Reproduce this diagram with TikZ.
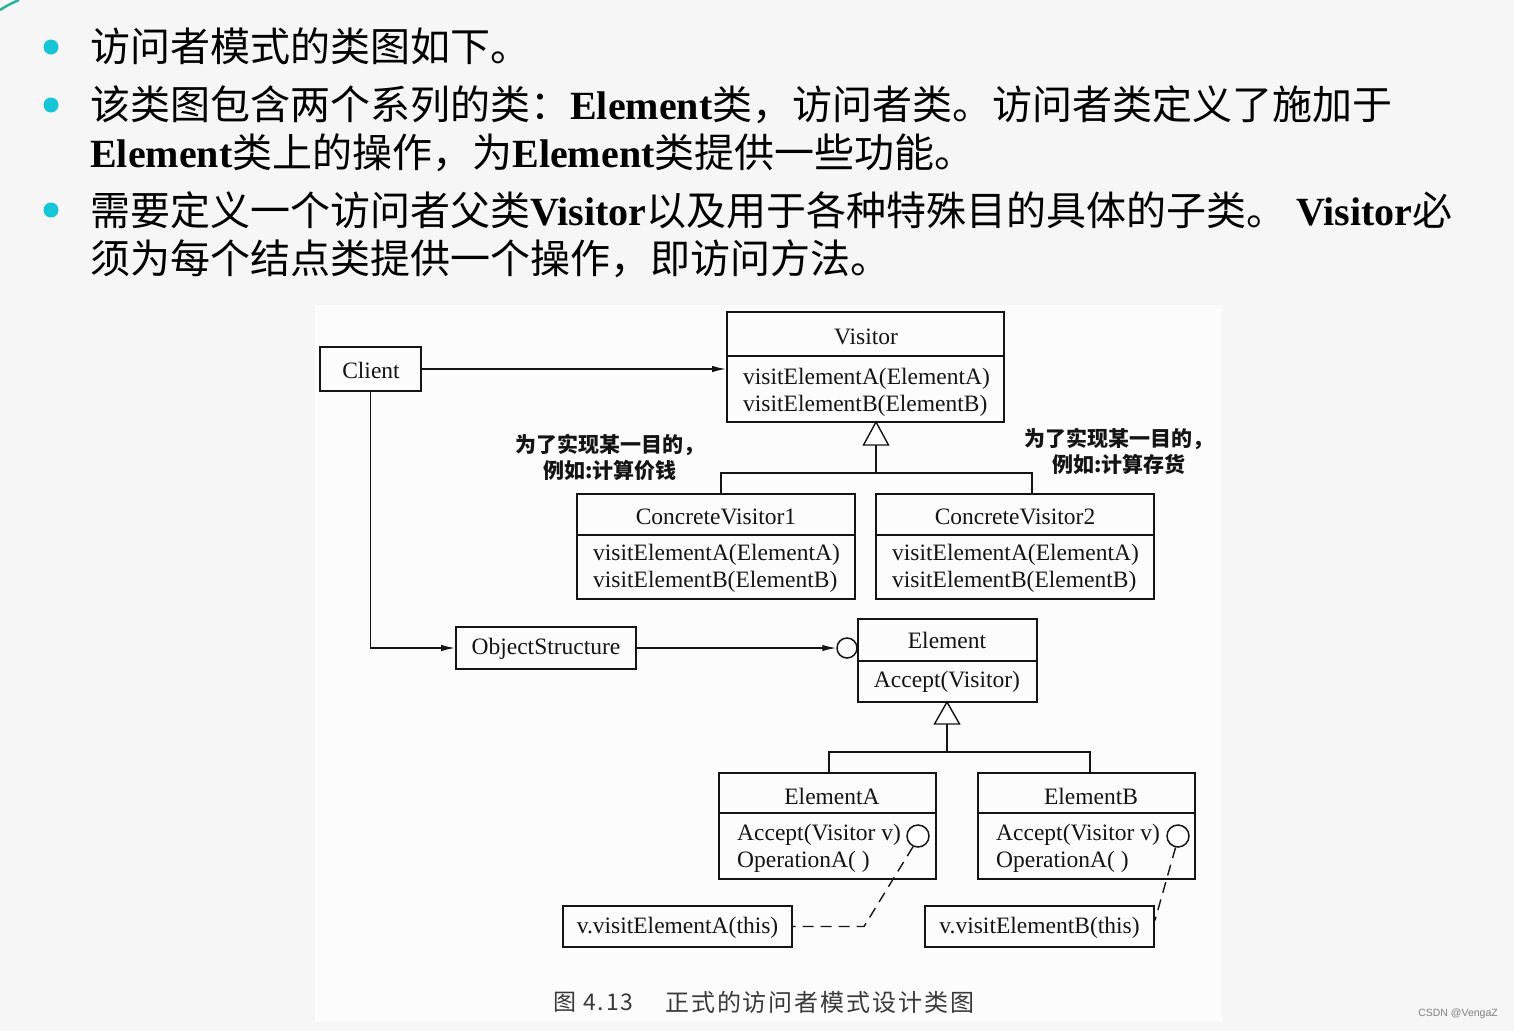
\documentclass[tikz,border=0pt]{standalone}
\usepackage{fontspec}
\setmainfont{Liberation Serif}
\newfontfamily\cjk{Noto Sans CJK SC}
\newfontfamily\capfont[LetterSpace=8.0]{Noto Sans CJK SC}
\newfontfamily\wmfont{Liberation Sans}
\usetikzlibrary{arrows.meta}
\definecolor{bulletc}{HTML}{17C6D6}
\definecolor{pagebg}{HTML}{F6F6F6}
\definecolor{diagbg}{HTML}{FCFCFC}
\definecolor{ink}{HTML}{141414}
\definecolor{capc}{HTML}{3A3A3A}
\definecolor{swoosh}{HTML}{2BB39E}
\begin{document}
\begin{tikzpicture}[x=1pt,y=-1pt,
  box/.style={draw=ink, line width=1.8pt, inner sep=0pt},
  divl/.style={draw=ink, line width=1.6pt},
  conn/.style={draw=ink, line width=1.4pt},
  arr/.style={conn, -{Latex[length=14pt,width=6.5pt]}},
  dashline/.style={draw=ink, line width=1.4pt, dash pattern=on 11pt off 7pt},
  lbl/.style={inner sep=0pt, text=ink, font=\fontsize{23.5}{27}\selectfont},
  meth/.style={lbl, anchor=west, align=left},
  note/.style={inner sep=0pt, text=ink, align=center, font={\cjk\bfseries\fontsize{21}{26}\selectfont}},
  head/.style={anchor=base west, inner sep=0pt, text=black, font=\fontsize{40}{48}\selectfont},
  bullet/.style={circle, fill=bulletc, minimum size=15pt, inner sep=0pt},
  lollipop/.style={circle, draw=ink, line width=1.5pt, fill=white, inner sep=0pt}
]
\useasboundingbox (0,0) rectangle (1514,1031);
\fill[pagebg] (0,0) rectangle (1514,1031);
\fill[diagbg] (315,305) rectangle (1222,1022);
\draw[swoosh, line width=2.5pt] (0,10) .. controls (8,5) .. (19,0);

% ---- heading text ----
\node[bullet] (b1) at (51,47) {};
\node[bullet] (b2) at (51,105) {};
\node[bullet] (b3) at (51,210) {};
\node[head] (l1) at (90,61) {\cjk 访问者模式的类图如下。};
\node[head] (l2) at (90,119) {{\cjk 该类图包含两个系列的类：}\textbf{Element}{\cjk 类，访问者类。访问者类定义了施加于}};
\node[head] (l2b) at (90,167) {\textbf{Element}{\cjk 类上的操作，为}\textbf{Element}{\cjk 类提供一些功能。}};
\node[head] (l3) at (90,225) {{\cjk 需要定义一个访问者父类}\textbf{Visitor}{\cjk 以及用于各种特殊目的具体的子类。} \textbf{Visitor}{\cjk 必}};
\node[head] (l3b) at (90,273) {\cjk 须为每个结点类提供一个操作，即访问方法。};

% ---- boxes ----
\node[box, minimum width=101pt, minimum height=44pt] (client) at (370.5,369) {};
\node[lbl] (clientt) at (371,370) {Client};

\node[box, minimum width=277pt, minimum height=110pt] (visitor) at (865.5,367) {};
\draw[divl] (visitor.west |- 0,356) -- (visitor.east |- 0,356);
\node[lbl] (visitort) at (866,337) {Visitor};
\node[meth] (visitorm) at (743,392) {visitElementA(ElementA)\\visitElementB(ElementB)};

\node[box, minimum width=278pt, minimum height=105pt] (cv1) at (716,546.5) {};
\draw[divl] (cv1.west |- 0,535) -- (cv1.east |- 0,535);
\node[lbl] (cv1t) at (716,517) {ConcreteVisitor1};
\node[meth] (cv1m) at (593,568) {visitElementA(ElementA)\\visitElementB(ElementB)};

\node[box, minimum width=278pt, minimum height=105pt] (cv2) at (1015,546.5) {};
\draw[divl] (cv2.west |- 0,535) -- (cv2.east |- 0,535);
\node[lbl] (cv2t) at (1015,517) {ConcreteVisitor2};
\node[meth] (cv2m) at (892,568) {visitElementA(ElementA)\\visitElementB(ElementB)};

\node[box, minimum width=180pt, minimum height=42pt] (objs) at (546,648) {};
\node[lbl] (objst) at (546,649) {ObjectStructure};

\node[box, minimum width=179pt, minimum height=83pt] (element) at (947.5,660.5) {};
\draw[divl] (element.west |- 0,661) -- (element.east |- 0,661);
\node[lbl] (elementt) at (947,640) {Element};
\node[lbl] (elementm) at (947,682) {Accept(Visitor)};

\node[box, minimum width=217pt, minimum height=106pt] (elA) at (827.5,826) {};
\draw[divl] (elA.west |- 0,813) -- (elA.east |- 0,813);
\node[lbl] (elAt) at (832,796) {ElementA};
\node[meth] (elAm) at (737,848) {Accept(Visitor v)\\OperationA( )};

\node[box, minimum width=217pt, minimum height=106pt] (elB) at (1086.5,826) {};
\draw[divl] (elB.west |- 0,813) -- (elB.east |- 0,813);
\node[lbl] (elBt) at (1091,796) {ElementB};
\node[meth] (elBm) at (996,848) {Accept(Visitor v)\\OperationA( )};

\node[box, minimum width=229pt, minimum height=41pt] (vA) at (677.5,926.5) {};
\node[lbl] (vAt) at (677.5,927.5) {v.visitElementA(this)};
\node[box, minimum width=229pt, minimum height=41pt] (vB) at (1039.5,926.5) {};
\node[lbl] (vBt) at (1039.5,927.5) {v.visitElementB(this)};

% ---- notes ----
\node[note] (noteL) at (610,457) {为了实现某一目的，\\例如:计算价钱};
\node[note] (noteR) at (1119,451) {为了实现某一目的，\\例如:计算存货};

% ---- connectors ----
\draw[arr] (client.east) -- (visitor.west |- client.east);
\draw[arr] (client.south) |- (objs.west);

\node[lollipop, minimum size=20pt] (ecirc) at (847,648) {};
\draw[arr] (objs.east) -- (ecirc.west);

% visitor generalization
\coordinate (vtip) at (876,422);
\coordinate (vbar) at (876,473);
\coordinate (vbl) at (721,473);
\coordinate (vbr) at (1032,473);
\draw[conn] (vbl |- cv1.north) -- (vbl) -- (vbr) -- (vbr |- cv2.north);
\draw[conn] (vbar) -- ([yshift=-23pt]vtip);
\draw[conn, fill=white] (vtip) -- ++(-12.5,23) -- ++(25,0) -- cycle;

% element generalization
\coordinate (etip) at (947,702);
\coordinate (ebar) at (947,752);
\coordinate (ebl) at (829,752);
\coordinate (ebr) at (1090,752);
\draw[conn] (ebl |- elA.north) -- (ebl) -- (ebr) -- (ebr |- elB.north);
\draw[conn] (ebar) -- ([yshift=-22pt]etip);
\draw[conn, fill=white] (etip) -- ++(-12.5,22) -- ++(25,0) -- cycle;

% lollipops on ElementA / ElementB
\node[lollipop, minimum size=22pt] (circA) at (918,836) {};
\node[lollipop, minimum size=22pt] (circB) at (1178,836) {};
\coordinate (ka) at (864,926.5);
\draw[dashline] (circA.245) -- (ka) -- (vA.east);
\draw[dashline] (circB.258) -- ([yshift=6pt]vB.east);

% ---- caption and watermark ----
\node[anchor=west, inner sep=0pt, text=capc, font=\capfont\fontsize{23}{26}\selectfont] (capnum) at (553,1002) {图 4.13};
\node[anchor=west, inner sep=0pt, text=capc, font=\capfont\fontsize{24}{26}\selectfont] (captxt) at (665,1002) {正式的访问者模式设计类图};
\node[anchor=east, inner sep=0pt, text=gray, font=\wmfont\fontsize{10.5}{12}\selectfont] (wm) at (1498,1014) {CSDN @VengaZ};
\end{tikzpicture}
\end{document}
